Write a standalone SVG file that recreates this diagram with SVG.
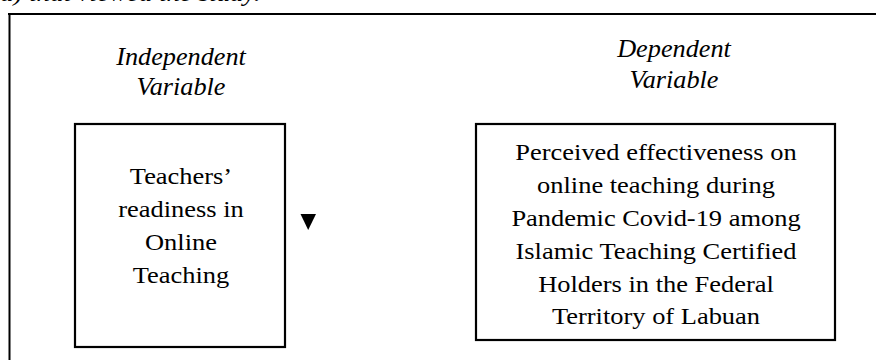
<svg xmlns="http://www.w3.org/2000/svg" width="876" height="360" viewBox="0 0 876 360">
<style>
.frame{stroke:#000;stroke-width:2;fill:none}
.box{fill:#fff;stroke:#000;stroke-width:2.2}
.t{font-family:"Liberation Serif","Times New Roman",serif;font-size:23px;fill:#000;text-anchor:middle}
.it{font-family:"Liberation Serif","Times New Roman",serif;font-size:25px;font-style:italic;fill:#000;text-anchor:middle}
.arrow{fill:#000}
</style>
<rect width="876" height="360" fill="#fff"/>
<text x="0" y="1" style="font-family:'Liberation Serif',serif;font-size:24px;font-style:italic" transform="scale(1.12,1)">a) that viewed the study.</text>
<g id="frame">
<line class="frame" x1="8" y1="14" x2="876" y2="14"/>
<line class="frame" x1="9.5" y1="13" x2="9.5" y2="360"/>
</g>
<g id="independent-label">
<g transform="translate(181,0) scale(1.05,1)">
<text class="it" x="0" y="65">Independent</text>
<text class="it" x="0" y="95">Variable</text>
</g>
</g>
<g id="dependent-label">
<g transform="translate(674,0) scale(1.05,1)">
<text class="it" x="0" y="57">Dependent</text>
<text class="it" x="0" y="88">Variable</text>
</g>
</g>
<g id="independent">
<rect class="box" x="75" y="124" width="210" height="223"/>
<g transform="translate(181,0) scale(1.15,1)">
<text class="t" x="0" y="184">Teachers’</text>
<text class="t" x="0" y="217">readiness in</text>
<text class="t" x="0" y="250">Online</text>
<text class="t" x="0" y="283">Teaching</text>
</g>
</g>
<g id="dependent">
<rect class="box" x="476" y="124" width="359" height="216"/>
<g transform="translate(656,0) scale(1.15,1)">
<text class="t" x="0" y="160">Perceived effectiveness on</text>
<text class="t" x="0" y="193">online teaching during</text>
<text class="t" x="0" y="226">Pandemic Covid-19 among</text>
<text class="t" x="0" y="259">Islamic Teaching Certified</text>
<text class="t" x="0" y="292">Holders in the Federal</text>
<text class="t" x="0" y="324">Territory of Labuan</text>
</g>
</g>
<g id="connectors">
<polygon class="arrow" points="300.5,214 316,214 308.2,230"/>
</g>
</svg>
